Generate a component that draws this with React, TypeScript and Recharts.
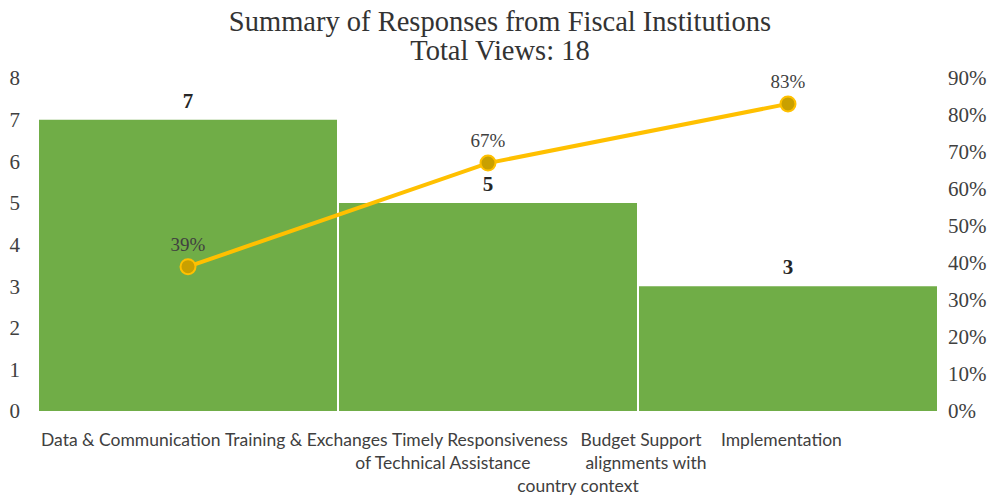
import { ComposedChart, Bar, Line, XAxis, YAxis, LabelList } from "recharts";

// values
const barNames = ["Data & Communication", "Training & Exchanges", "Timely Responsiveness"];
const responses = [7, 5, 3];
const cumulativeShare = [0.39, 0.67, 0.83];

// the five category labels printed under the plot, as wrapped in the picture
const axisLabels = [
  ["Data & Communication"],
  ["Training & Exchanges"],
  ["Timely Responsiveness", "of Technical Assistance"],
  ["Budget Support", "alignments with", "country context"],
  ["Implementation"],
];
// where each label sits, as a share of the plot width
const axisLabelPos = [0.103, 0.298, 0.491, 0.67, 0.826];
// sideways nudge (px) of each wrapped line, the picture does not centre them
const axisLineShift = [[0], [0], [0, -37], [0, 5, -63], [0]];

const leftTicks = [0, 1, 2, 3, 4, 5, 6, 7, 8];
const rightTicks = [0, 0.1, 0.2, 0.3, 0.4, 0.5, 0.6, 0.7, 0.8, 0.9];

const rows = barNames.map((name, i) => ({
  name,
  responses: responses[i],
  cumulative: cumulativeShare[i],
}));

// the label axis runs over the row index range (0 .. rows-1)
const labelSpan = rows.length - 1;

const serif = "'Liberation Serif', 'Times New Roman', serif";

function CategoryTick(props: any) {
  const { x, y, index } = props;
  const lines = axisLabels[index] || [];
  const shifts = axisLineShift[index] || [];
  return (
    <text
      x={x}
      y={y}
      textAnchor="middle"
      fill="#404040"
      style={{ fontFamily: "Lato, 'Open Sans', sans-serif", fontSize: 17.5 }}
    >
      {lines.map((ln, i) => (
        <tspan key={i} x={x + (shifts[i] || 0)} dy={i === 0 ? 3 : 23}>
          {ln}
        </tspan>
      ))}
    </text>
  );
}

export default function App() {
  return (
    <div
      style={{
        position: "absolute",
        left: 0,
        top: 0,
        width: 1007,
        height: 499,
        background: "#fff",
      }}
    >
      <div
        style={{
          position: "absolute",
          top: 7,
          left: 0,
          width: 1000,
          textAlign: "center",
          fontFamily: serif,
          fontSize: 28.5,
          lineHeight: "29px",
          color: "#333",
        }}
      >
        Summary of Responses from Fiscal Institutions
        <br />
        Total Views: 18
      </div>
      <ComposedChart
        width={1007}
        height={499}
        data={rows}
        margin={{ top: 78, right: 0, bottom: 8, left: 0 }}
        barCategoryGap={1}
      >
        <XAxis dataKey="name" xAxisId="bars" hide />
        <XAxis
          xAxisId="labels"
          type="number"
          domain={[0, labelSpan]}
          allowDataOverflow
          ticks={axisLabelPos.map((p) => p * labelSpan)}
          interval={0}
          height={80}
          axisLine={false}
          tickLine={false}
          tickSize={0}
          tick={<CategoryTick />}
        />
        <YAxis
          yAxisId="count"
          domain={[0, 8]}
          ticks={leftTicks}
          width={38}
          axisLine={false}
          tickLine={false}
          tickSize={0}
          tickMargin={18}
          tick={{ fill: "#404040", fontFamily: serif, fontSize: 21 }}
        />
        <YAxis
          yAxisId="share"
          orientation="right"
          domain={[0, 0.9]}
          ticks={rightTicks}
          width={69}
          axisLine={false}
          tickLine={false}
          tickSize={0}
          tickMargin={10}
          tickFormatter={(v: number) => `${Math.round(v * 100)}%`}
          tick={{ fill: "#404040", fontFamily: serif, fontSize: 21, textAnchor: "start" }}
        />
        <Bar
          xAxisId="bars"
          yAxisId="count"
          dataKey="responses"
          fill="#70AD47"
          isAnimationActive={false}
        >
          <LabelList
            dataKey="responses"
            position="top"
            offset={12}
            style={{ fill: "#262626", fontFamily: serif, fontSize: 21, fontWeight: "bold" }}
          />
        </Bar>
        <Line
          xAxisId="bars"
          yAxisId="share"
          dataKey="cumulative"
          stroke="#FFC000"
          strokeWidth={4}
          dot={{ r: 7.5, fill: "#C9A000", stroke: "#FFC000", strokeWidth: 2 }}
          isAnimationActive={false}
        >
          <LabelList
            dataKey="cumulative"
            position="top"
            offset={16}
            formatter={(v: any) => `${Math.round(Number(v) * 100)}%`}
            style={{ fill: "#404040", fontFamily: serif, fontSize: 19 }}
          />
        </Line>
      </ComposedChart>
    </div>
  );
}
